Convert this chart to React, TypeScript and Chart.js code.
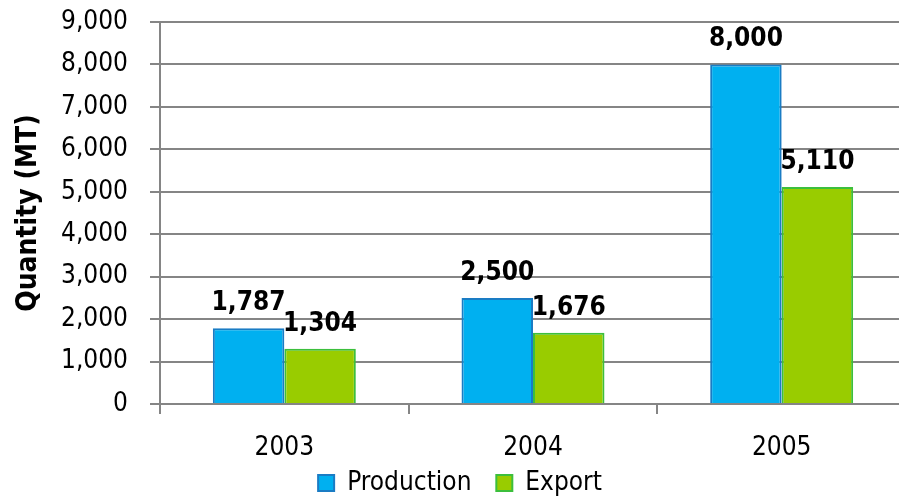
import React, { useEffect, useRef } from "react";
import { Chart, registerables } from "chart.js";

Chart.register(...registerables);

const categories = ["2003", "2004", "2005"];
const productionValues = [1787, 2500, 8000];
const exportValues = [1304, 1676, 5110];
const seriesNames = ["Production", "Export"];
const yTickMax = 9000;
const yTickStep = 1000;

const FONT = "'DejaVu Sans Condensed', 'DejaVu Sans', sans-serif";
const GRID = "#858585";

const fmt = (v: number) => Number(v).toLocaleString("en-US");

const valueLabels = {
  id: "valueLabels",
  afterDatasetsDraw(chart: any) {
    const ctx = chart.ctx;
    ctx.save();
    ctx.font = `bold 26px ${FONT}`;
    ctx.fillStyle = "#000";
    ctx.textAlign = "center";
    ctx.textBaseline = "alphabetic";
    chart.data.datasets.forEach((ds: any, di: number) => {
      const meta = chart.getDatasetMeta(di);
      meta.data.forEach((el: any, i: number) => {
        ctx.fillText(fmt(ds.data[i]), el.x, el.y - 18);
      });
    });
    ctx.restore();
  },
};

export default function App() {
  const ref = useRef<HTMLCanvasElement>(null);
  useEffect(() => {
    if (!ref.current) return;
    const chart = new Chart(ref.current, {
      type: "bar",
      data: {
        labels: categories,
        datasets: [
          {
            label: seriesNames[0],
            data: productionValues,
            backgroundColor: "#00B0F0",
            borderColor: "#1A7CC4",
            borderWidth: 2,
            barPercentage: 1,
            categoryPercentage: 0.575,
          },
          {
            label: seriesNames[1],
            data: exportValues,
            backgroundColor: "#99CC00",
            borderColor: "#3CBF3C",
            borderWidth: 2,
            barPercentage: 1,
            categoryPercentage: 0.575,
          },
        ],
      },
      options: {
        responsive: false,
        animation: false,
        layout: { padding: { top: 22, left: 14, right: 0, bottom: 0 } },
        plugins: {
          legend: {
            position: "bottom",
            labels: {
              font: { family: FONT, size: 26 },
              color: "#000",
              boxWidth: 16,
              boxHeight: 16,
              padding: 10,
              generateLabels: (chart: any) => {
                const items = Chart.defaults.plugins.legend.labels.generateLabels(chart);
                items.forEach((it: any, i: number) => {
                  if (i < items.length - 1) it.text = it.text + "  ";
                });
                return items;
              },
            },
          },
          tooltip: { enabled: false },
        },
        scales: {
          x: {
            grid: {
              offset: true,
              drawOnChartArea: false,
              drawTicks: true,
              tickLength: 10,
              color: GRID,
              lineWidth: 2,
            },
            border: { color: GRID, width: 2 },
            ticks: { font: { family: FONT, size: 26 }, color: "#000", padding: 19 },
            afterFit: (scale: any) => {
              scale.height = 56;
            },
          },
          y: {
            min: 0,
            max: yTickMax,
            ticks: {
              stepSize: yTickStep,
              font: { family: FONT, size: 26 },
              color: "#000",
              padding: 22,
              callback: (v: any) => fmt(v),
            },
            grid: { color: GRID, lineWidth: 2, tickLength: 10 },
            border: { color: GRID, width: 2 },
            title: {
              display: true,
              text: "Quantity (MT)",
              font: { family: FONT, size: 28, weight: "bold" },
              color: "#000",
              padding: { top: -2, bottom: 0 },
            },
            afterFit: (scale: any) => {
              scale.width = 146;
              scale.paddingTop = 0;
              scale.paddingBottom = 0;
            },
          },
        },
      },
      plugins: [valueLabels],
    });
    return () => chart.destroy();
  }, []);
  return (
    <div
      style={{
        position: "fixed",
        left: 0,
        top: 0,
        width: 899,
        height: 499,
        overflow: "hidden",
        background: "#fff",
      }}
    >
      <canvas ref={ref} width={906} height={506} style={{ display: "block" }} />
    </div>
  );
}
